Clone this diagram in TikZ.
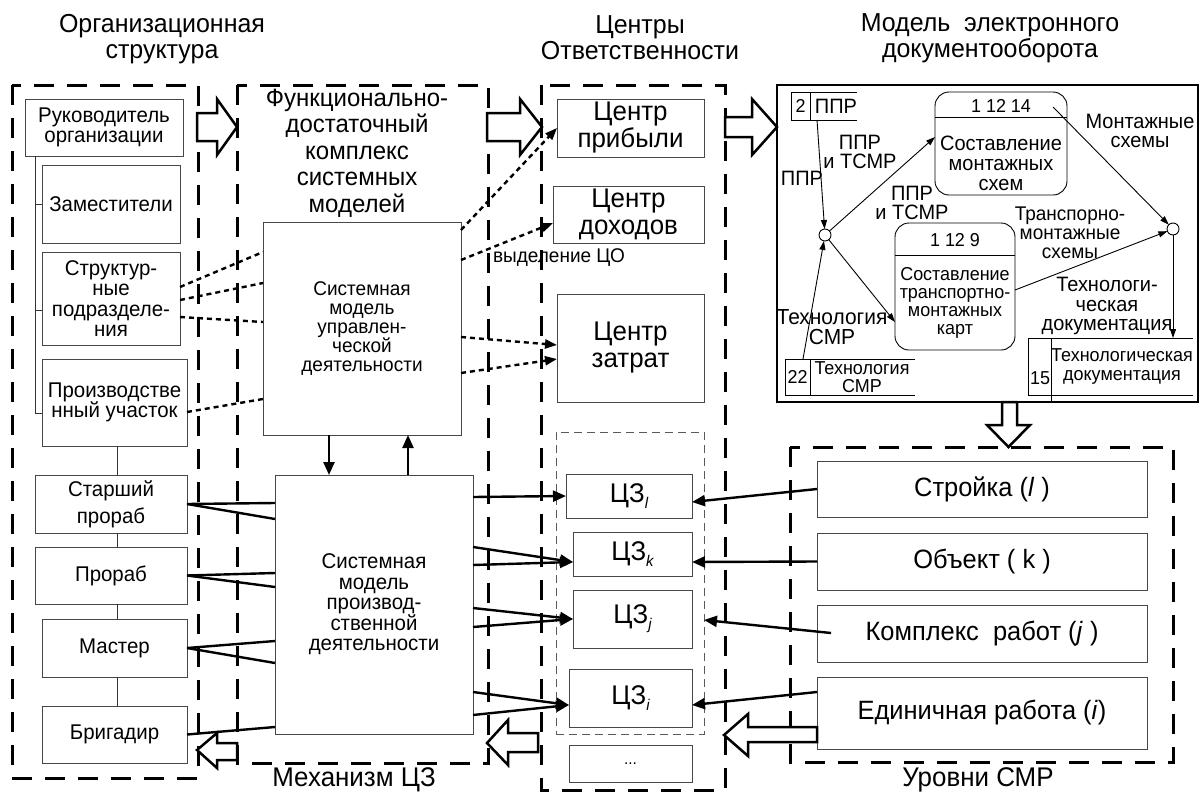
\documentclass[tikz,border=0pt]{standalone}
\usepackage{fontspec}
\setmainfont{Liberation Sans}[FakeStretch=0.96]
\usetikzlibrary{arrows.meta,calc}
\newcommand{\fsz}[2]{\fontsize{#1pt}{#2pt}\selectfont}
\newcommand{\czs}[1]{ЦЗ\raisebox{-6pt}{\fsz{15.5}{16}\itshape #1}}
\begin{document}
\begin{tikzpicture}[x=1pt,y=-1pt,
  box/.style={draw=black!72, line width=0.9pt, inner sep=0pt, outer sep=0pt, align=center},
  bigdash/.style={line width=3pt, dash pattern=on 20pt off 13pt},
  thindash/.style={draw=black!65, line width=0.9pt, dash pattern=on 8pt off 5pt},
  docframe/.style={line width=1.2pt},
  tree/.style={line width=0.9pt, draw=black!80},
  fan/.style={line width=2.4pt},
  fanarr/.style={line width=2.4pt, -{Triangle[length=13pt,width=11pt]}},
  dotl/.style={line width=2.4pt, dash pattern=on 5pt off 4pt},
  dotarr/.style={dotl, -{Triangle[length=12pt,width=9pt]}},
  hollow/.style={draw, line width=2.5pt, fill=white, line join=miter},
  thinl/.style={line width=0.9pt},
  tarr/.style={line width=0.9pt, -{Triangle[length=9pt,width=6pt]}},
  proc/.style={draw, line width=0.9pt, rounded corners=14pt, inner sep=0pt, outer sep=0pt},
  jn/.style={circle, draw, line width=0.9pt, minimum size=12pt, inner sep=0pt, outer sep=0pt},
  ttl/.style={font=\fsz{26}{26}, align=center},
  tfun/.style={font=\fsz{25}{26.5}, align=center},
  fo/.style={font=\fsz{21.3}{20.5}},
  fo2/.style={font=\fsz{21.3}{27}},
  fm1/.style={font=\fsz{19.8}{19}},
  fm2/.style={font=\fsz{21.3}{20.5}},
  fc/.style={font=\fsz{27}{27}},
  fz/.style={font=\fsz{27}{26}},
  fu/.style={font=\fsz{26.5}{26}},
  fl/.style={font=\fsz{20.8}{19.8}, align=center},
  fs/.style={font=\fsz{18.7}{17.8}, align=center},
  fp1/.style={font=\fsz{20.8}{20}, align=center},
  fp2/.style={font=\fsz{18.7}{17.8}, align=center}
]
\useasboundingbox (0,0) rectangle (1199,795);

% ---------- frames ----------
\draw[bigdash] (12,85) rectangle (198,778);
\draw[bigdash] (237,85) rectangle (488,763);
\draw[bigdash] (541,85) rectangle (725,790);
\draw[bigdash] (790,447) rectangle (1173,762);
\draw[docframe] (777,85) rectangle (1198,402);
\node[thindash, minimum width=148, minimum height=302, inner sep=0pt, outer sep=0pt] (czb) at (630,583) {};

% ---------- titles ----------
\node[ttl] (tOrg) at (162,39) {Организационная\\структура};
\node[ttl] (tCO) at (640,38) {Центры\\Ответственности};
\node[ttl] (tDoc) at (990,38) {Модель\ \ электронного\\документооборота};
\node[tfun] (tFun) at (357,153) {Функционально-\\достаточный\\комплекс\\системных\\моделей};
\node[font=\fsz{27}{26}] (tMech) at (354,780) {Механизм ЦЗ};
\node[font=\fsz{27}{26}] (tUr) at (978,780) {Уровни СМР};
\node[font=\fsz{19.8}{19}] (tVyd) at (559,258) {выделение ЦО};

% ---------- organisation ----------
\node[box,fo,minimum width=158,minimum height=57] (ruk) at (104,127.5) {Руководитель\\организации};
\node[box,fo,minimum width=138,minimum height=78] (zam) at (111,204) {Заместители};
\node[box,fo,minimum width=138,minimum height=93] (str) at (111,298.5) {Структур-\\ные\\подразделе-\\ния};
\node[box,fo,minimum width=145,minimum height=87] (pu) at (114.5,402.5) {Производстве\\нный участок};
\node[box,fo2,minimum width=152,minimum height=58] (sp) at (111,504) {Старший\\прораб};
\node[box,fo,minimum width=152,minimum height=57] (pr) at (111,575.5) {Прораб};
\node[box,fo,minimum width=145,minimum height=58] (ma) at (114.5,648) {Мастер};
\node[box,fo,minimum width=145,minimum height=57] (br) at (114.5,734.5) {Бригадир};

\coordinate (t0) at (35,156);
\coordinate (t3) at (35,413);
\coordinate (t2) at (35,310);
\draw[tree] (t0) -- (t3) -- (pu.west |- t3);
\draw[tree] (t0 |- zam.west) -- (zam.west);
\draw[tree] (t2) -- (str.west |- t2);
\draw[tree] ([xshift=2.5pt]pu.south) -- ([xshift=6pt]sp.north);
\draw[tree] ([xshift=6pt]sp.south) -- ([xshift=6pt]pr.north);
\draw[tree] ([xshift=6pt]pr.south) -- ([xshift=2.5pt]ma.north);
\draw[tree] ([xshift=2.5pt]ma.south) -- ([xshift=2.5pt]br.north);

% ---------- models ----------
\node[box,fm1,minimum width=198,minimum height=213] (ctrl) at (362,328.5) {Системная\\модель\\управлен-\\ческой\\деятельности};
\node[box,fm2,minimum width=198,minimum height=259] (prod) at (374,604.5) {Системная\\модель\\производ-\\ственной\\деятельности};
\draw[fanarr] ([xshift=-33pt]ctrl.south) -- ([xshift=-33pt]ctrl.south |- prod.north);
\draw[fanarr] ([xshift=46pt]ctrl.south |- prod.north) -- ([xshift=46pt]ctrl.south);

% ---------- responsibility centres ----------
\node[box,fc,minimum width=147,minimum height=58] (cp) at (630.5,128) {Центр\\прибыли};
\node[box,fc,minimum width=151,minimum height=57] (cd) at (628.5,214.5) {Центр\\доходов};
\node[box,fc,minimum width=147,minimum height=108] (cz) at (630.5,348) {Центр\\затрат};
\node[box,fz,minimum width=126,minimum height=44] (cl) at (629,496) {\czs{l}};
\node[box,fz,minimum width=119,minimum height=44] (ck) at (632.5,554) {\czs{k}};
\node[box,fz,minimum width=119,minimum height=58] (cj) at (632.5,619) {\czs{j}};
\node[box,fz,minimum width=123,minimum height=58] (ci) at (630.5,698) {\czs{i}};
\node[box,font=\fsz{16}{16},minimum width=123,minimum height=37] (cdots) at (630.5,763.5) {...};

% ---------- levels ----------
\node[box,fu,minimum width=330,minimum height=56] (st) at (982,489) {Стройка (\textit{l} )};
\node[box,fu,minimum width=330,minimum height=57] (ob) at (982,561.5) {Объект ( k )};
\node[box,fu,minimum width=330,minimum height=57] (kr) at (982,633.5) {Комплекс\ \ работ (\textit{j} )};
\node[box,fu,minimum width=330,minimum height=72] (er) at (982,713) {Единичная работа (\textit{i})};

% ---------- org -> production model ----------
\coordinate (pL1) at (275,503); \coordinate (pL2) at (275,519);
\coordinate (pL3) at (275,573); \coordinate (pL4) at (275,587);
\coordinate (pL5) at (275,641); \coordinate (pL6) at (275,663);
\coordinate (pL7) at (275,727);
\draw[fan] (sp.east) -- (pL1);
\draw[fan] (sp.east) -- (pL2);
\draw[fan] (pr.east) -- (pL3);
\draw[fan] (pr.east) -- (pL4);
\draw[fan] (ma.east) -- (pL5);
\draw[fan] (ma.east) -- (pL6);
\draw[fan] (br.east) -- (pL7);

% ---------- production model -> CZ ----------
\coordinate (pR1) at (473,497);
\coordinate (pR2) at (473,547); \coordinate (pR3) at (473,565);
\coordinate (pR4) at (473,608); \coordinate (pR5) at (473,627);
\coordinate (pR6) at (473,692); \coordinate (pR7) at (473,715);
\coordinate (ckin) at (573,562);
\coordinate (ciin) at (569,705);
\draw[fanarr] (pR1) -- (cl.west);
\draw[fanarr] (pR2) -- (ckin);
\draw[fanarr] (pR3) -- (ckin);
\draw[fanarr] (pR4) -- (cj.west);
\draw[fanarr] (pR5) -- (cj.west);
\draw[fanarr] (pR6) -- (ciin);
\draw[fanarr] (pR7) -- (ciin);

% ---------- levels -> CZ ----------
\coordinate (clin2) at (692,502);
\coordinate (ckin2) at (692,562);
\coordinate (czbin) at (704,620);
\coordinate (ciin2) at (692,705);
\coordinate (krout) at (831,633);
\coordinate (erout) at (817,692);
\draw[fanarr] (st.west) -- (clin2);
\draw[fanarr] (ob.west) -- (ckin2);
\draw[fanarr] (krout) -- (czbin);
\draw[fanarr] (erout) -- (ciin2);

% ---------- dotted links ----------
\coordinate (sd1) at (180,287); \coordinate (cl1) at (263,252);
\coordinate (sd2) at (180,300); \coordinate (cl2) at (263,283);
\coordinate (sd3) at (180,317); \coordinate (cl3) at (263,322);
\coordinate (pud) at (187,412); \coordinate (cl4) at (263,399);
\draw[dotl] (sd1) -- (cl1);
\draw[dotl] (sd2) -- (cl2);
\draw[dotl] (sd3) -- (cl3);
\draw[dotl] (pud) -- (cl4);
\coordinate (co1) at (461,230);
\coordinate (co2) at (461,260); \coordinate (cdin) at (553,223);
\coordinate (co3) at (461,337); \coordinate (czin1) at (557,345);
\coordinate (co4) at (461,373); \coordinate (czin2) at (557,359);
\draw[dotarr] (co1) -- (cp.west);
\draw[dotarr] (co2) -- (cdin);
\draw[dotarr] (co3) -- (czin1);
\draw[dotarr] (co4) -- (czin2);

% ---------- hollow block arrows ----------
\draw[hollow] (197,113) -- (217,113) -- (217,99) -- (237,127) -- (217,155) -- (217,141) -- (197,141) -- cycle;
\draw[hollow] (487,113) -- (520,113) -- (520,99) -- (542,127) -- (520,155) -- (520,141) -- (487,141) -- cycle;
\draw[hollow] (725,117) -- (752,117) -- (752,99) -- (777,127) -- (752,155) -- (752,137) -- (725,137) -- cycle;
\draw[hollow] (1002,402) -- (1002,425) -- (987,425) -- (1008.5,447) -- (1030,425) -- (1017,425) -- (1017,402) -- cycle;
\draw[hollow] (817,727) -- (748,727) -- (748,714) -- (724,735) -- (748,756) -- (748,742) -- (817,742) -- cycle;
\draw[hollow] (538,733) -- (508,733) -- (508,720) -- (487,743) -- (508,765) -- (508,752) -- (538,752) -- cycle;
\draw[hollow] (237,743) -- (217,743) -- (217,733) -- (197,750) -- (217,768) -- (217,760) -- (237,760) -- cycle;

% ---------- document flow model ----------
% store 2
\node[draw, line width=0.9pt, inner sep=0pt, outer sep=0pt, minimum width=19, minimum height=28, font=\fsz{18.7}{18}] (n2) at (800.5,106) {2};
\draw[thinl] (n2.north east) -- ++(47,0);
\draw[thinl] (n2.south east) -- ++(47,0);
\node[font=\fsz{20.8}{20}] (s2t) at (836,106) {ППР};
% store 22
\node[draw, line width=0.9pt, inner sep=0pt, outer sep=0pt, minimum width=25, minimum height=36, font=\fsz{18.7}{18}] (n22) at (797.5,377) {22};
\draw[thinl] (n22.north east) -- ++(105,0);
\draw[thinl] (n22.south east) -- ++(105,0);
\node[fp2] (s22t) at (862,377) {Технология\\СМР};
% store 15
\node[draw, line width=0.9pt, inner sep=0pt, outer sep=0pt, minimum width=23, minimum height=57] (n15) at (1039.5,366.5) {};
\node[font=\fsz{18.7}{18}] (n15l) at (1040,378) {15};
\draw[thinl] (n15.north east) -- ++(142,0);
\draw[thinl] (n15.south east) -- ++(142,0);
\draw[thinl] (n15.south east) -- ++(0,7);
\node[fs, font=\fsz{18.7}{19}] (s15t) at (1122,367) {Технологическая\\документация};
% processes
\node[proc, minimum width=132, minimum height=103] (p1) at (1001,143.5) {};
\draw[thinl] ($(p1.north west)+(0,25)$) -- ($(p1.north east)+(0,25)$);
\node[font=\fsz{18.7}{18}] (p1h) at (1001,106) {1 12 14};
\node[fp1] (p1b) at (1001,163) {Составление\\монтажных\\схем};
\node[proc, minimum width=120, minimum height=127] (p2) at (955,286.5) {};
\draw[thinl] ($(p2.north west)+(0,32)$) -- ($(p2.north east)+(0,32)$);
\node[font=\fsz{18.7}{18}] (p2h) at (955,240) {1 12 9};
\node[fp2] (p2b) at (955,303) {Составление\\транспортно-\\монтажных\\карт};
% junctions
\node[jn] (j1) at (825,235) {};
\node[jn] (j2) at (1173,229) {};
% flows
\coordinate (s2out) at (817,120);
\coordinate (s22out) at (803,359);
\coordinate (p1in) at (935,137);
\coordinate (p2in) at (895,322);
\coordinate (p1out) at (1053,107);
\coordinate (p2out) at (1015,290);
\draw[tarr] (s2out) -- (j1);
\draw[tarr] (s22out) -- (j1);
\draw[tarr] (j1) -- (p1in);
\draw[tarr] (j1) -- (p2in);
\draw[tarr] (p1out) -- (j2);
\draw[tarr] (p2out) -- (j2);
\draw[tarr] (j2) -- (j2 |- n15.north);
% flow labels
\node[font=\fsz{20.8}{20}] (lppr) at (802,178) {ППР};
\node[fl] (lpt1) at (860,152) {ППР\\и ТСМР};
\node[fl] (lpt2) at (912,203) {ППР\\и ТСМР};
\node[fl] (lmont) at (1140,131) {Монтажные\\схемы};
\node[fl, font=\fsz{19.8}{18.8}] (ltr) at (1070,233) {Транспорно-\\монтажные\\схемы};
\node[fl] (ltech) at (1107,306) {Технологи-\\ческая\\документация};
\node[fl, font=\fsz{21.8}{20.7}] (lsmr) at (832,327) {Технология\\СМР};
\end{tikzpicture}
\end{document}
